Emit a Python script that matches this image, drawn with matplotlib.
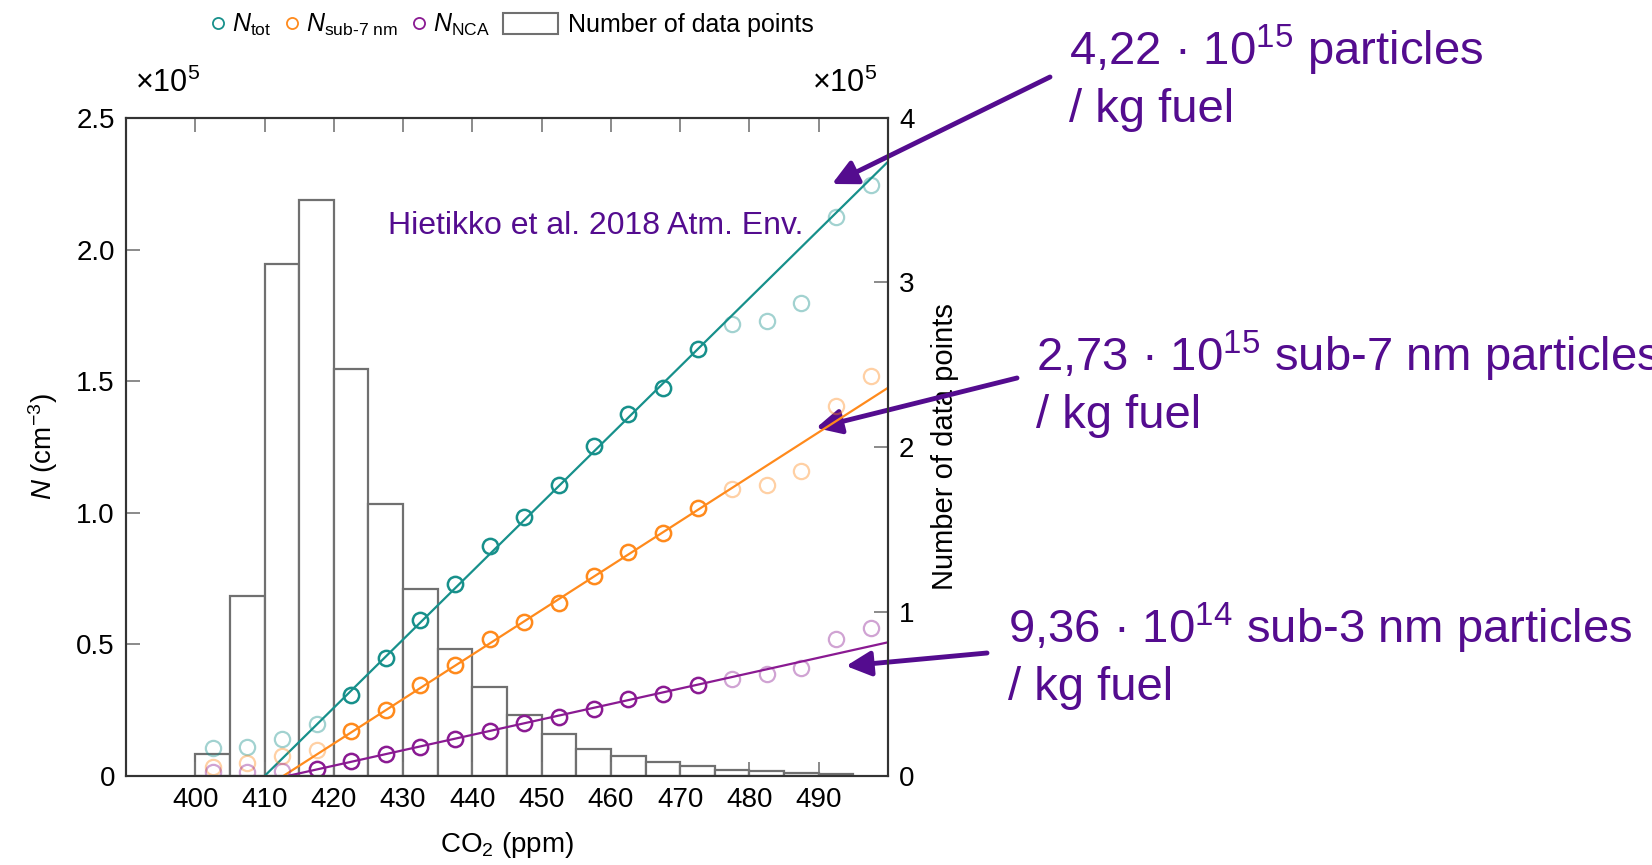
import matplotlib
matplotlib.use('Agg')
import matplotlib.pyplot as plt
from matplotlib.lines import Line2D
from matplotlib.patches import Patch, FancyArrowPatch
import numpy as np

plt.rcParams['font.family'] = ['Liberation Sans', 'DejaVu Sans']
plt.rcParams['mathtext.fontset'] = 'custom'
plt.rcParams['mathtext.rm'] = 'Liberation Sans'
plt.rcParams['mathtext.it'] = 'Liberation Sans:italic'
plt.rcParams['mathtext.bf'] = 'Liberation Sans:bold'

# CO2 bin centres (ppm) and mean concentrations (x1e5 cm-3)
co2 = [402.5, 407.5, 412.5, 417.5, 422.5, 427.5, 432.5, 437.5, 442.5, 447.5,
       452.5, 457.5, 462.5, 467.5, 472.5, 477.5, 482.5, 487.5, 492.5, 497.5]
n_tot = [0.108, 0.112, 0.14, 0.196, 0.308, 0.448, 0.592, 0.728, 0.872, 0.984,
         1.104, 1.252, 1.376, 1.476, 1.624, 1.716, 1.728, 1.796, 2.124, 2.244]
n_sub7 = [0.036, 0.048, 0.076, 0.10, 0.172, 0.252, 0.344, 0.42, 0.52, 0.584,
          0.656, 0.76, 0.852, 0.924, 1.02, 1.092, 1.104, 1.16, 1.404, 1.52]
n_nca = [0.016, 0.016, 0.02, 0.028, 0.056, 0.084, 0.112, 0.14, 0.172, 0.20,
         0.224, 0.256, 0.292, 0.312, 0.344, 0.368, 0.388, 0.412, 0.52, 0.564]
# index range of points used in the fit (others drawn faded)
fit_idx = [(4, 14), (4, 14), (3, 14)]
# fitted lines: x and y end points
fit_x = [(410.0, 500.0), (412.7, 500.0), (413.3, 500.0)]
fit_y = [(0.0, 2.334), (0.0, 1.475), (0.0, 0.508)]

# histogram of data points (x1e5)
bin_left = [400, 405, 410, 415, 420, 425, 430, 435, 440, 445,
            450, 455, 460, 465, 470, 475, 480, 485, 490]
counts = [0.134, 1.094, 3.11, 3.50, 2.477, 1.651, 1.139, 0.774, 0.544, 0.371,
          0.256, 0.166, 0.122, 0.083, 0.058, 0.038, 0.03, 0.02, 0.012]

teal = '#17908b'
orange = '#ff8a1c'
purple = '#8a1a92'
note = '#540c8f'
series = [n_tot, n_sub7, n_nca]
colors = [teal, orange, purple]

W, H = 1652, 865
fig = plt.figure(figsize=(W / 100, H / 100), dpi=100)
ax = fig.add_axes([126 / W, 1 - 776 / H, (888 - 126) / W, (776 - 118) / H])
ax2 = ax.twinx()
ax.set_zorder(ax2.get_zorder() + 1)
ax.patch.set_visible(False)

fs = 20

ax2.bar(bin_left, counts, width=5, align='edge', facecolor='white',
        edgecolor='#707070', linewidth=1.6)
ax2.set_ylim(0, 4)
ax2.set_yticks([0, 1, 2, 3, 4])
ax2.set_yticklabels(['0', '1', '2', '3', '4'])
ax2.set_ylabel('Number of data points', fontsize=fs + 1, labelpad=12)

x = np.array(co2)
for vals, c, (i0, i1), fx, fy in zip(series, colors, fit_idx, fit_x, fit_y):
    v = np.array(vals)
    mask = np.zeros(len(v), dtype=bool)
    mask[i0:i1 + 1] = True
    ax.plot(x[~mask], v[~mask], 'o', mfc='none', mec=c, ms=11, mew=1.6, alpha=0.4)
    ax.plot(x[mask], v[mask], 'o', mfc='none', mec=c, ms=11, mew=1.8)
    ax.plot(fx, fy, '-', color=c, lw=1.6)

ax.set_xlim(390, 500)
ax.set_ylim(0, 2.5)
ax.set_xticks(np.arange(400, 491, 10))
ax.set_yticks([0, 0.5, 1.0, 1.5, 2.0, 2.5])
ax.set_yticklabels(['0', '0.5', '1.0', '1.5', '2.0', '2.5'])
ax.set_xlabel('CO$_2$ (ppm)', fontsize=fs, labelpad=12)
ax.set_ylabel('$N$ (cm$^{-3}$)', fontsize=fs, labelpad=12)

for a in (ax, ax2):
    a.tick_params(direction='in', length=10, width=1.2, color='#777777',
                  labelsize=fs, pad=8)
    for s in a.spines.values():
        s.set_linewidth(1.5)
        s.set_color('#333333')
ax.tick_params(top=True, bottom=True)

ax.text(0.012, 1.052, r'$\times 10^5$', transform=ax.transAxes, ha='left',
        va='center', fontsize=fs + 2)
ax.text(0.985, 1.052, r'$\times 10^5$', transform=ax.transAxes, ha='right',
        va='center', fontsize=fs + 2)

# legend
h_pts = [Line2D([], [], marker='o', ls='none', mfc='none', mec=c, ms=8, mew=1.3)
         for c in colors]
lfs = 18
fig.legend(handles=h_pts,
           labels=[r'$N_{\mathrm{tot}}$', r'$N_{\text{sub-7 nm}}$', r'$N_{\mathrm{NCA}}$'],
           loc='center right', bbox_to_anchor=(490 / W, 1 - 25 / H), ncol=3,
           frameon=False, handlelength=0.5, handletextpad=0.3, columnspacing=0.6,
           fontsize=lfs, borderpad=0, borderaxespad=0)
fig.legend(handles=[Patch(facecolor='white', edgecolor='#707070', linewidth=1.5)],
           labels=['Number of data points'], loc='center left',
           bbox_to_anchor=(503 / W, 1 - 25 / H), frameon=False, handlelength=2.2,
           handleheight=0.9, handletextpad=0.4, fontsize=lfs, borderpad=0,
           borderaxespad=0)

fig.text(388 / W, 1 - 234 / H, 'Hietikko et al. 2018 Atm. Env.', color=note,
         fontsize=23, va='baseline')

# emission factor notes (top-left pixel coords)
notes = [(1069, 65, r'4,22 · 10$^{15}$ particles'),
         (1036, 371, r'2,73 · 10$^{15}$ sub-7 nm particles'),
         (1008, 643, r'9,36 · 10$^{14}$ sub-3 nm particles')]
for nx, ny, txt in notes:
    fig.text(nx / W, 1 - ny / H, txt, color=note, fontsize=34, va='baseline')
    fig.text(nx / W, 1 - (ny + 57) / H, '/ kg fuel', color=note, fontsize=34,
             va='baseline')

arrows = [((1050, 77), (832, 184)),
          ((1017, 378), (816, 428)),
          ((987, 653), (846, 666))]
for (tx, ty), (hx, hy) in arrows:
    fig.add_artist(FancyArrowPatch(
        (tx / W, 1 - ty / H), (hx / W, 1 - hy / H), transform=fig.transFigure,
        arrowstyle='-|>,head_length=1.0,head_width=0.5', mutation_scale=15,
        color=note, linewidth=3.5, shrinkA=0, shrinkB=0))

fig.savefig('out.png', dpi=100)
